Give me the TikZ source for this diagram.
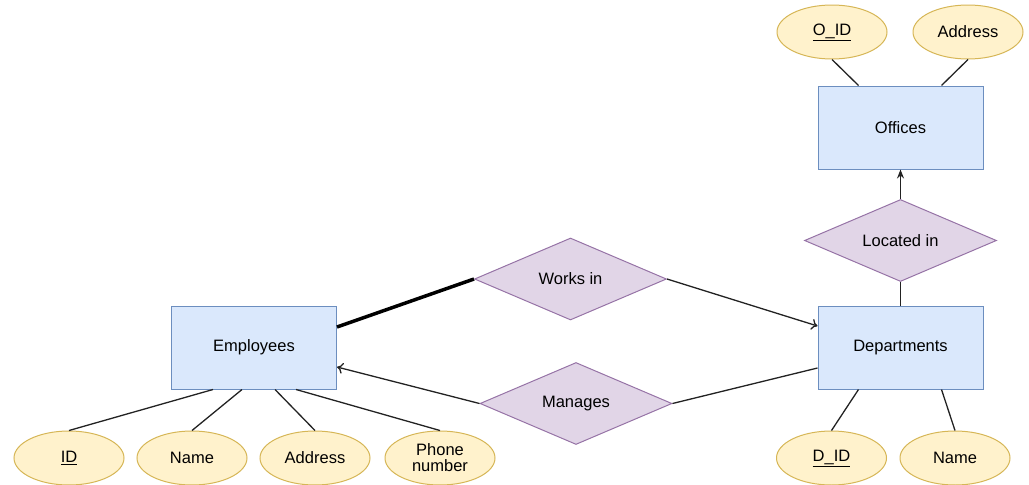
\documentclass[tikz,border=0pt]{standalone}
\usepackage{fontspec}
\setmainfont{Liberation Sans}
\usetikzlibrary{shapes.geometric,arrows.meta}
\definecolor{entfill}{HTML}{DAE8FC}
\definecolor{entdraw}{HTML}{6C8EBF}
\definecolor{attfill}{HTML}{FFF2CC}
\definecolor{attdraw}{HTML}{D6B656}
\definecolor{relfill}{HTML}{E1D5E7}
\definecolor{reldraw}{HTML}{9673A6}
\definecolor{linecol}{HTML}{222222}
\tikzset{
  entity/.style={draw=entdraw,fill=entfill,line width=1pt,minimum width=165pt,minimum height=83pt,inner sep=0pt,font=\fontsize{16.5}{19}\selectfont},
  attr/.style={ellipse,draw=attdraw,fill=attfill,line width=1pt,minimum width=110pt,minimum height=54pt,inner sep=0pt,align=center,font=\fontsize{16.5}{19}\selectfont},
  rel/.style={diamond,draw=reldraw,fill=relfill,line width=1pt,minimum width=192pt,minimum height=82pt,inner sep=0pt,aspect=2.3,font=\fontsize{16.5}{19}\selectfont},
  conn/.style={draw=linecol,line width=1.3pt},
  openarrow/.style={-{To[length=6pt,width=11pt]}},
  filledarrow/.style={-{Stealth[length=9pt,width=7pt]}}
}
\begin{document}
\begin{tikzpicture}[x=1pt,y=-1pt]
\useasboundingbox (0,0) rectangle (1029,485);
% entities
\node[entity] (emp) at (254,347.5) {Employees};
\node[entity] (dep) at (900.5,347.5) {Departments};
\node[entity] (off) at (900.5,127.5) {Offices};
% relationships
\node[rel] (works) at (570.5,279) {Works in};
\node[rel] (manages) at (576,403.5) {Manages};
\node[rel] (located) at (900.5,240.5) {Located in};
% attributes
\node[attr] (eid) at (69,458) {\underline{ID}};
\node[attr] (ename) at (192,458) {Name};
\node[attr] (eaddr) at (315,458) {Address};
\node[attr] (ephone) at (440,458) {Phone\\[-3pt]number};
\node[attr] (did) at (831.5,458) {\underline{D\_ID}};
\node[attr] (dname) at (955,458) {Name};
\node[attr] (oid) at (832,32) {\underline{O\_ID}};
\node[attr] (oaddr) at (968,32) {Address};
% attribute connectors
\draw[conn] ([xshift=42pt]emp.south west) -- (eid.north);
\draw[conn] ([xshift=71pt]emp.south west) -- (ename.north);
\draw[conn] ([xshift=104pt]emp.south west) -- (eaddr.north);
\draw[conn] ([xshift=125pt]emp.south west) -- (ephone.north);
\draw[conn] ([xshift=41pt]dep.south west) -- (did.north);
\draw[conn] ([xshift=124pt]dep.south west) -- (dname.north);
\draw[conn] ([xshift=41pt]off.north west) -- (oid.south);
\draw[conn] ([xshift=124pt]off.north west) -- (oaddr.south);
% relationship connectors
\draw[draw=black,line width=3.5pt] ([yshift=20.5pt]emp.east) -- (works.west);
\draw[conn,openarrow] (works.east) -- ([yshift=21.5pt]dep.west);
\draw[conn,openarrow] (manages.west) -- ([yshift=-19.5pt]emp.east);
\draw[conn] (manages.east) -- ([yshift=-20.5pt]dep.west);
\draw[conn,filledarrow] (located.north) -- (off.south);
\draw[conn] (located.south) -- (dep.north);
\end{tikzpicture}
\end{document}
